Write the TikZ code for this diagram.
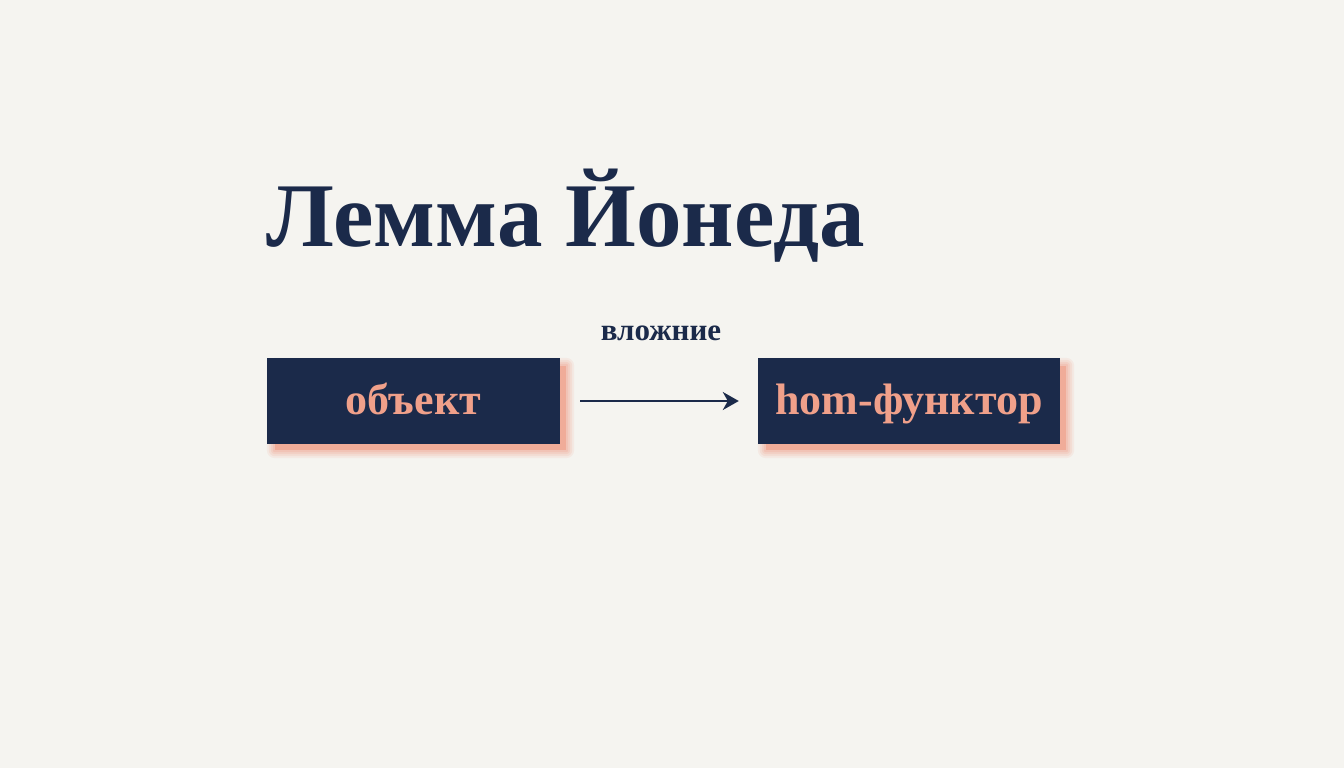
\documentclass[tikz,border=0pt]{standalone}
\usepackage{fontspec}
\setmainfont{Liberation Serif}
\usetikzlibrary{arrows.meta,calc}
\definecolor{bg}{HTML}{F5F4F0}
\definecolor{navy}{HTML}{1B2A4A}
\definecolor{salmon}{HTML}{F0A08A}
\tikzset{
  box/.style={fill=navy, text=salmon, minimum height=86pt, inner sep=0pt,
    text height=34pt, text depth=8pt,
    font=\bfseries\fontsize{44}{48}\selectfont},
  conn/.style={draw=navy, line width=2pt, -{Stealth[length=16pt,width=18pt,inset=5pt]}},
  lbl/.style={text=navy, font=\bfseries\fontsize{31}{34}\selectfont},
  ttl/.style={text=navy, font=\bfseries\fontsize{91}{98}\selectfont, anchor=base west, inner sep=0pt}
}
\newcommand{\softshadow}[1]{%
  \foreach \e/\o in {8/0.12,6/0.16,4/0.2,2/0.25}{%
    \fill[salmon, opacity=\o, rounded corners=\e pt]
      ($(#1.south west)+(8pt-\e pt,-6pt-\e pt)$) rectangle ($(#1.north east)+(6pt+\e pt,-8pt+\e pt)$);
  }
  \fill[salmon, opacity=0.65]
      ($(#1.south west)+(8pt,-6pt)$) rectangle ($(#1.north east)+(6pt,-8pt)$);
}
\begin{document}
\begin{tikzpicture}[x=1pt,y=1pt]
\fill[bg] (0,0) rectangle (1344,-768);
\useasboundingbox (0,0) rectangle (1344,-768);
\node[ttl] (title) at (266,-246) {Лемма Йонеда};
\coordinate (c1) at (413.5,-401);
\coordinate (c2) at (909,-401);
\path (c1) node[minimum width=293pt, minimum height=86pt, inner sep=0pt] (s1) {};
\path (c2) node[minimum width=302pt, minimum height=86pt, inner sep=0pt] (s2) {};
\softshadow{s1}
\softshadow{s2}
\node[box, minimum width=293pt] (a) at (c1) {объект};
\node[box, minimum width=302pt] (b) at (c2) {hom-функтор};
\draw[conn, shorten <=20pt, shorten >=19pt] (a.east) -- (b.west);
\node[lbl] (l) at (661,-333) {вложние};
\end{tikzpicture}
\end{document}
